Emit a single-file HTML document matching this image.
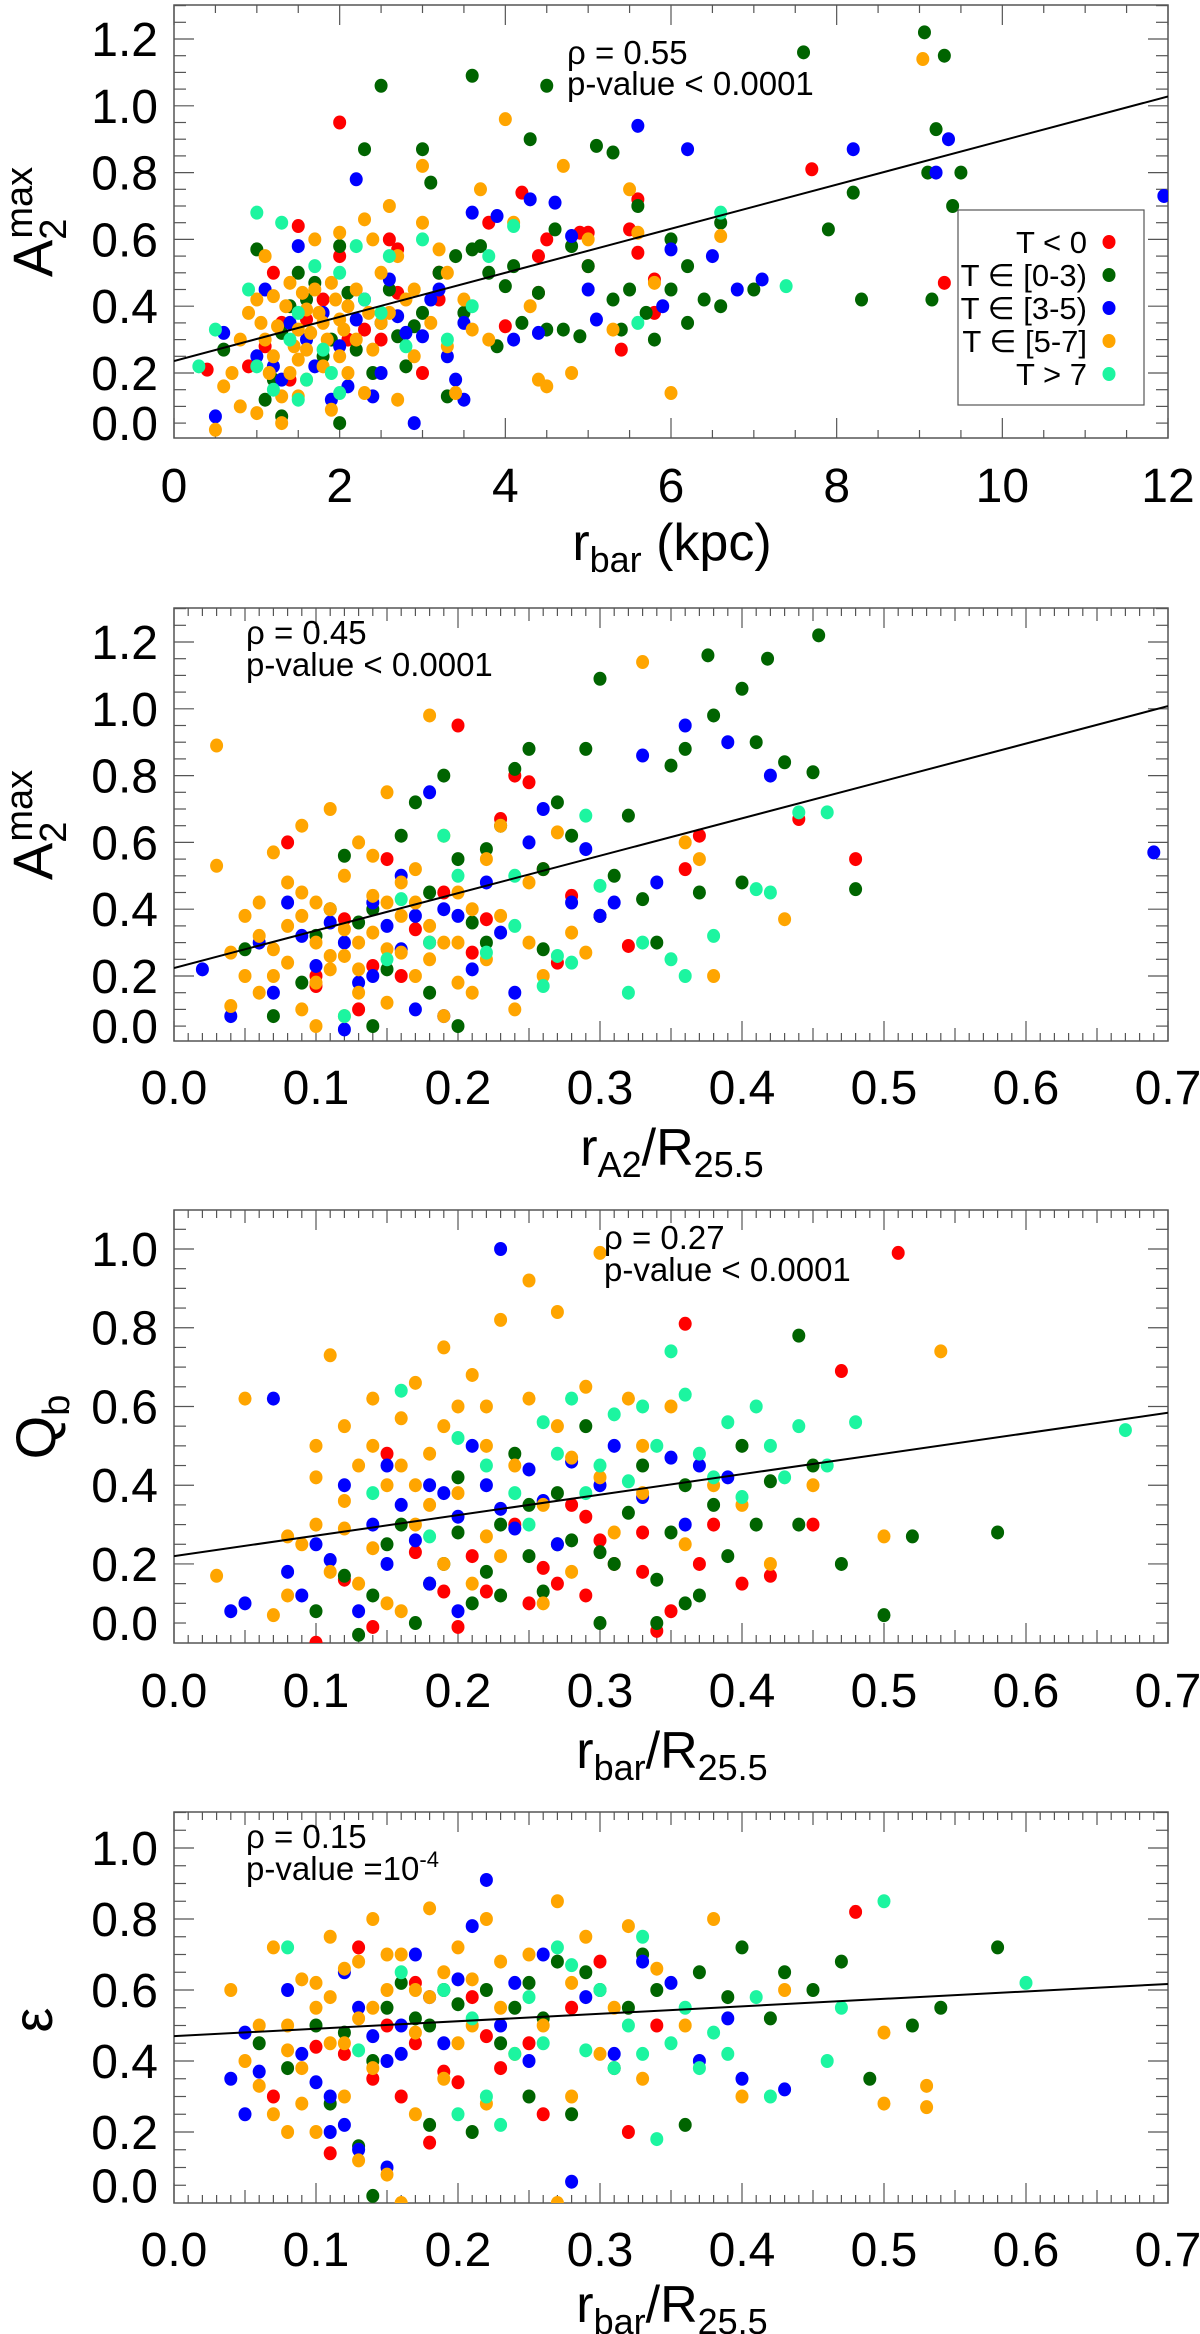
<!DOCTYPE html>
<html><head><meta charset="utf-8"><title>Bar strength correlations</title>
<style>
html,body{margin:0;padding:0;background:#fff;}
svg{display:block;font-family:"Liberation Sans",Arial,sans-serif;}
</style></head>
<body>
<svg id="fig" xmlns="http://www.w3.org/2000/svg" width="1200" height="2334" viewBox="0 0 1200 2334"></svg>
<script>
// ---- Data ----
const categories = ["T < 0", "T \u2208 [0-3)", "T \u2208 [3-5)", "T \u2208 [5-7]", "T > 7"];
const catColors = ["#ff0000", "#006400", "#0000ff", "#ffa500", "#1cf5a0"];

// Panel 1: A2max vs r_bar (kpc)
const p1Red = [[0.4,0.21],[0.9,0.22],[1.2,0.5],[1.5,0.64],[1.3,0.35],[2.0,0.95],[2.0,0.55],[2.1,0.3],[2.6,0.6],[2.7,0.57],[2.7,0.44],[3.2,0.42],[3.2,0.5],[3.8,0.65],[4.0,0.34],[4.2,0.74],[4.4,0.55],[4.4,0.44],[4.5,0.6],[4.9,0.62],[5.0,0.52],[5.0,0.62],[5.4,0.27],[5.6,0.56],[5.6,0.72],[5.5,0.63],[5.8,0.38],[5.8,0.48],[7.7,0.81],[9.3,0.47],[3.0,0.2],[1.8,0.42],[1.1,0.28],[2.5,0.3],[1.6,0.36],[2.3,0.33],[1.4,0.18]];
const p1Green = [[1.0,0.57],[1.3,0.32],[1.5,0.5],[1.7,0.47],[1.6,0.42],[2.0,0.58],[2.5,0.35],[2.6,0.45],[2.7,0.31],[3.0,0.87],[2.3,0.87],[2.5,1.06],[3.1,0.77],[3.2,0.5],[3.6,1.09],[3.7,0.58],[4.0,0.46],[4.3,0.9],[4.5,1.06],[4.4,0.44],[3.5,0.38],[3.9,0.28],[4.2,0.35],[4.6,0.63],[4.8,0.58],[5.0,0.52],[5.1,0.88],[5.3,0.86],[5.6,0.7],[5.5,0.45],[5.7,0.38],[6.0,0.6],[6.2,0.52],[6.0,0.45],[5.3,0.42],[4.9,0.31],[4.7,0.33],[5.4,0.33],[6.4,0.42],[6.6,0.4],[6.6,0.65],[7.0,0.45],[7.6,1.16],[7.9,0.63],[8.3,0.42],[8.2,0.74],[9.06,1.22],[9.3,1.15],[9.2,0.93],[9.1,0.8],[9.5,0.8],[9.4,0.7],[9.15,0.42],[3.3,0.13],[1.3,0.07],[2.0,0.05],[2.8,0.22],[3.4,0.55],[3.6,0.57],[3.0,0.38],[2.2,0.27],[1.2,0.18],[0.6,0.27],[1.9,0.3],[2.4,0.2],[3.8,0.5],[4.1,0.52],[4.5,0.33],[5.8,0.3],[6.2,0.35],[1.4,0.4],[1.8,0.25],[2.1,0.44],[2.9,0.34],[1.1,0.12]];
const p1Blue = [[0.5,0.07],[0.6,0.32],[1.0,0.25],[1.3,0.18],[1.5,0.58],[1.1,0.45],[1.7,0.22],[1.9,0.12],[2.1,0.16],[2.2,0.78],[2.4,0.13],[2.5,0.2],[2.7,0.37],[2.8,0.32],[3.0,0.31],[3.2,0.45],[3.3,0.25],[3.4,0.18],[3.5,0.12],[2.9,0.05],[3.6,0.68],[3.9,0.67],[4.3,0.72],[4.6,0.71],[4.8,0.61],[4.1,0.3],[5.0,0.45],[5.1,0.36],[5.6,0.94],[5.9,0.4],[6.0,0.57],[6.2,0.87],[6.5,0.55],[6.8,0.45],[7.1,0.48],[8.2,0.87],[9.35,0.9],[9.2,0.8],[11.95,0.73],[1.8,0.38],[2.3,0.42],[2.6,0.48],[4.4,0.32],[3.1,0.42],[1.4,0.35],[2.0,0.28],[1.2,0.22],[1.6,0.3],[2.2,0.36],[3.5,0.35]];
const p1Orange = [[0.5,0.03],[0.6,0.16],[0.8,0.1],[0.9,0.38],[1.0,0.42],[1.1,0.3],[1.2,0.25],[1.2,0.43],[1.3,0.05],[1.4,0.2],[1.4,0.47],[1.5,0.33],[1.5,0.13],[1.6,0.39],[1.6,0.27],[1.7,0.6],[1.7,0.45],[1.8,0.35],[1.8,0.22],[1.9,0.09],[1.9,0.47],[2.0,0.62],[2.0,0.36],[2.1,0.4],[2.1,0.2],[2.2,0.3],[2.2,0.45],[2.3,0.14],[2.3,0.66],[2.4,0.6],[2.5,0.35],[2.5,0.5],[2.6,0.38],[2.7,0.55],[2.7,0.12],[2.8,0.42],[2.9,0.25],[3.0,0.65],[3.1,0.35],[3.2,0.57],[3.3,0.28],[3.4,0.14],[3.5,0.42],[3.6,0.33],[3.7,0.75],[3.8,0.3],[4.0,0.96],[4.1,0.65],[4.3,0.4],[4.4,0.18],[4.7,0.82],[4.8,0.2],[5.0,0.6],[5.3,0.33],[5.5,0.75],[5.6,0.62],[5.8,0.47],[6.6,0.61],[6.0,0.14],[9.04,1.14],[4.5,0.16],[0.7,0.2],[1.0,0.08],[1.3,0.13],[1.6,0.18],[2.0,0.25],[2.4,0.27],[2.9,0.45],[3.3,0.5],[1.1,0.55],[2.6,0.7],[3.0,0.82],[1.25,0.34],[1.45,0.28],[1.55,0.44],[1.65,0.32],[1.75,0.38],[1.85,0.3],[1.95,0.42],[1.05,0.35],[1.35,0.4],[1.15,0.2],[2.05,0.33],[2.35,0.38],[1.5,0.24],[0.8,0.3]];
const p1Cyan = [[0.3,0.22],[0.5,0.33],[0.9,0.45],[1.0,0.68],[1.3,0.65],[1.4,0.3],[1.5,0.12],[1.6,0.18],[1.8,0.27],[2.0,0.5],[2.2,0.58],[2.3,0.42],[2.5,0.38],[2.8,0.28],[3.0,0.6],[3.3,0.3],[3.6,0.4],[1.2,0.15],[1.7,0.52],[2.6,0.55],[3.8,0.55],[4.1,0.64],[5.6,0.35],[6.6,0.68],[7.39,0.46],[1.0,0.22],[2.0,0.14],[1.5,0.38],[1.9,0.2]];
const p1Fit = [0.236, 0.066];

// Panel 2: A2max vs r_A2/R25.5
const p2Red = [[0.08,0.6],[0.1,0.2],[0.12,0.37],[0.14,0.23],[0.15,0.55],[0.17,0.34],[0.18,0.3],[0.19,0.45],[0.2,0.95],[0.21,0.27],[0.22,0.37],[0.23,0.67],[0.24,0.8],[0.25,0.78],[0.26,0.52],[0.28,0.44],[0.3,0.38],[0.32,0.29],[0.36,0.52],[0.37,0.62],[0.44,0.67],[0.48,0.55],[0.1,0.17],[0.13,0.1],[0.16,0.2],[0.27,0.24]];
const p2Green = [[0.05,0.28],[0.07,0.08],[0.1,0.32],[0.11,0.4],[0.12,0.56],[0.13,0.36],[0.14,0.05],[0.16,0.62],[0.17,0.72],[0.18,0.45],[0.19,0.8],[0.2,0.55],[0.2,0.05],[0.22,0.58],[0.23,0.65],[0.24,0.82],[0.25,0.88],[0.26,0.52],[0.27,0.72],[0.28,0.62],[0.29,0.88],[0.3,1.09],[0.31,0.5],[0.32,0.68],[0.33,0.43],[0.34,0.3],[0.35,0.83],[0.36,0.88],[0.37,0.45],[0.38,0.98],[0.4,1.06],[0.41,0.9],[0.43,0.84],[0.45,0.81],[0.4,0.48],[0.48,0.46],[0.454,1.22],[0.376,1.16],[0.418,1.15],[0.3,0.38],[0.26,0.28],[0.22,0.3],[0.15,0.22],[0.09,0.18],[0.18,0.15],[0.14,0.4],[0.21,0.36]];
const p2Blue = [[0.02,0.22],[0.04,0.08],[0.06,0.3],[0.07,0.15],[0.08,0.42],[0.1,0.23],[0.11,0.36],[0.12,0.04],[0.13,0.18],[0.14,0.42],[0.15,0.35],[0.16,0.28],[0.17,0.1],[0.18,0.75],[0.19,0.4],[0.2,0.38],[0.21,0.22],[0.22,0.48],[0.24,0.15],[0.25,0.6],[0.26,0.7],[0.28,0.42],[0.29,0.58],[0.3,0.38],[0.31,0.42],[0.33,0.86],[0.36,0.95],[0.34,0.48],[0.42,0.8],[0.39,0.9],[0.69,0.57],[0.14,0.2],[0.09,0.32],[0.23,0.33],[0.16,0.5],[0.19,0.08],[0.12,0.3],[0.17,0.38]];
const p2Orange = [[0.03,0.89],[0.03,0.53],[0.05,0.38],[0.04,0.27],[0.06,0.15],[0.07,0.57],[0.08,0.35],[0.08,0.24],[0.09,0.65],[0.09,0.45],[0.1,0.3],[0.1,0.18],[0.11,0.7],[0.11,0.4],[0.12,0.08],[0.12,0.5],[0.13,0.22],[0.13,0.6],[0.14,0.33],[0.14,0.44],[0.15,0.12],[0.15,0.75],[0.16,0.27],[0.16,0.38],[0.17,0.52],[0.17,0.2],[0.18,0.98],[0.18,0.35],[0.19,0.62],[0.19,0.08],[0.2,0.3],[0.2,0.45],[0.21,0.15],[0.22,0.55],[0.22,0.25],[0.23,0.38],[0.24,0.1],[0.25,0.48],[0.26,0.2],[0.27,0.63],[0.28,0.33],[0.29,0.27],[0.33,1.14],[0.36,0.6],[0.37,0.55],[0.38,0.2],[0.43,0.37],[0.06,0.32],[0.07,0.2],[0.09,0.1],[0.1,0.05],[0.11,0.26],[0.12,0.34],[0.13,0.15],[0.14,0.56],[0.15,0.42],[0.16,0.48],[0.18,0.25],[0.2,0.18],[0.21,0.4],[0.23,0.65],[0.25,0.3],[0.08,0.48],[0.05,0.2],[0.04,0.11],[0.07,0.28],[0.09,0.38],[0.1,0.42],[0.11,0.22],[0.12,0.26],[0.13,0.3],[0.15,0.28],[0.17,0.42],[0.19,0.3],[0.06,0.42]];
const p2Cyan = [[0.12,0.08],[0.15,0.25],[0.18,0.3],[0.2,0.5],[0.22,0.27],[0.24,0.35],[0.26,0.17],[0.27,0.26],[0.28,0.24],[0.3,0.47],[0.32,0.15],[0.33,0.3],[0.35,0.25],[0.36,0.2],[0.38,0.32],[0.41,0.46],[0.42,0.45],[0.44,0.69],[0.46,0.69],[0.16,0.43],[0.19,0.62],[0.29,0.68],[0.24,0.5]];
const p2Fit = [0.224, 1.12];

// Panel 3: Qb vs r_bar/R25.5
const p3Red = [[0.1,0.0],[0.12,0.16],[0.14,0.04],[0.15,0.48],[0.17,0.23],[0.19,0.13],[0.2,0.04],[0.22,0.13],[0.24,0.3],[0.25,0.1],[0.26,0.19],[0.28,0.35],[0.29,0.12],[0.3,0.26],[0.31,0.2],[0.33,0.18],[0.34,0.03],[0.35,0.08],[0.36,0.81],[0.37,0.2],[0.38,0.3],[0.4,0.15],[0.42,0.17],[0.45,0.3],[0.47,0.69],[0.51,0.99],[0.33,0.28],[0.27,0.15],[0.21,0.22],[0.29,0.32]];
const p3Green = [[0.1,0.08],[0.12,0.17],[0.13,0.02],[0.14,0.12],[0.15,0.25],[0.16,0.3],[0.17,0.05],[0.18,0.15],[0.19,0.2],[0.2,0.42],[0.21,0.1],[0.22,0.18],[0.23,0.3],[0.24,0.48],[0.25,0.22],[0.26,0.13],[0.27,0.38],[0.28,0.26],[0.29,0.55],[0.3,0.05],[0.31,0.2],[0.32,0.33],[0.33,0.45],[0.34,0.16],[0.35,0.28],[0.36,0.4],[0.37,0.12],[0.38,0.35],[0.39,0.22],[0.4,0.5],[0.41,0.3],[0.42,0.41],[0.44,0.3],[0.44,0.78],[0.45,0.45],[0.47,0.2],[0.5,0.07],[0.52,0.27],[0.58,0.28],[0.2,0.28],[0.25,0.35],[0.3,0.23],[0.34,0.05],[0.36,0.1],[0.23,0.12],[0.27,0.25]];
const p3Blue = [[0.04,0.08],[0.05,0.1],[0.07,0.62],[0.08,0.18],[0.09,0.12],[0.1,0.25],[0.11,0.21],[0.12,0.4],[0.13,0.08],[0.14,0.3],[0.15,0.45],[0.16,0.35],[0.17,0.26],[0.18,0.15],[0.19,0.38],[0.2,0.32],[0.21,0.5],[0.22,0.4],[0.23,1.0],[0.24,0.29],[0.25,0.44],[0.26,0.36],[0.27,0.25],[0.28,0.46],[0.3,0.4],[0.31,0.5],[0.33,0.37],[0.35,0.47],[0.36,0.3],[0.37,0.45],[0.39,0.42],[0.2,0.08],[0.15,0.2],[0.18,0.4],[0.23,0.34]];
const p3Orange = [[0.03,0.17],[0.05,0.62],[0.07,0.07],[0.08,0.27],[0.08,0.12],[0.09,0.25],[0.1,0.5],[0.1,0.3],[0.11,0.73],[0.11,0.18],[0.12,0.55],[0.12,0.36],[0.13,0.45],[0.14,0.24],[0.14,0.62],[0.15,0.4],[0.15,0.1],[0.16,0.57],[0.17,0.3],[0.17,0.66],[0.18,0.48],[0.19,0.2],[0.19,0.75],[0.2,0.38],[0.2,0.6],[0.21,0.68],[0.22,0.27],[0.22,0.5],[0.23,0.82],[0.24,0.45],[0.25,0.92],[0.25,0.62],[0.26,0.35],[0.27,0.84],[0.27,0.55],[0.28,0.18],[0.29,0.65],[0.3,0.99],[0.3,0.42],[0.31,0.28],[0.32,0.62],[0.33,0.38],[0.35,0.6],[0.36,0.25],[0.38,0.4],[0.4,0.35],[0.42,0.2],[0.45,0.4],[0.5,0.27],[0.54,0.74],[0.13,0.15],[0.16,0.08],[0.18,0.35],[0.21,0.15],[0.23,0.22],[0.26,0.1],[0.28,0.47],[0.33,0.5],[0.12,0.29],[0.1,0.42],[0.16,0.45],[0.19,0.55],[0.22,0.6],[0.14,0.5],[0.17,0.4]];
const p3Cyan = [[0.14,0.38],[0.16,0.64],[0.18,0.27],[0.2,0.52],[0.22,0.45],[0.24,0.38],[0.26,0.56],[0.27,0.48],[0.28,0.62],[0.3,0.45],[0.31,0.58],[0.32,0.41],[0.33,0.6],[0.34,0.5],[0.35,0.74],[0.36,0.63],[0.37,0.48],[0.38,0.42],[0.39,0.56],[0.4,0.37],[0.41,0.6],[0.42,0.5],[0.43,0.42],[0.44,0.55],[0.46,0.45],[0.48,0.56],[0.67,0.54],[0.29,0.38],[0.25,0.3]];
const p3Fit = [0.22, 0.52];

// Panel 4: ellipticity vs r_bar/R25.5
const p4Red = [[0.07,0.3],[0.1,0.44],[0.11,0.14],[0.12,0.42],[0.13,0.72],[0.15,0.5],[0.16,0.3],[0.17,0.45],[0.18,0.17],[0.19,0.37],[0.2,0.34],[0.21,0.58],[0.22,0.47],[0.23,0.38],[0.26,0.25],[0.28,0.55],[0.3,0.68],[0.32,0.2],[0.34,0.5],[0.48,0.82],[0.17,0.62],[0.25,0.45],[0.14,0.35]];
const p4Green = [[0.06,0.45],[0.08,0.38],[0.1,0.5],[0.11,0.28],[0.12,0.48],[0.13,0.16],[0.14,0.02],[0.14,0.4],[0.15,0.55],[0.16,0.62],[0.17,0.52],[0.18,0.22],[0.19,0.6],[0.2,0.56],[0.21,0.2],[0.22,0.6],[0.23,0.45],[0.24,0.55],[0.25,0.3],[0.26,0.52],[0.27,0.68],[0.28,0.25],[0.29,0.65],[0.31,0.38],[0.32,0.55],[0.33,0.7],[0.34,0.6],[0.36,0.22],[0.37,0.65],[0.39,0.58],[0.4,0.72],[0.42,0.52],[0.43,0.65],[0.45,0.6],[0.47,0.68],[0.49,0.35],[0.52,0.5],[0.54,0.55],[0.58,0.72],[0.3,0.6],[0.25,0.62],[0.18,0.5]];
const p4Blue = [[0.04,0.35],[0.05,0.25],[0.05,0.48],[0.06,0.37],[0.08,0.6],[0.09,0.42],[0.1,0.34],[0.11,0.3],[0.11,0.2],[0.12,0.22],[0.13,0.15],[0.13,0.55],[0.14,0.47],[0.15,0.4],[0.15,0.1],[0.16,0.5],[0.17,0.7],[0.18,0.58],[0.19,0.45],[0.2,0.63],[0.21,0.78],[0.22,0.91],[0.23,0.5],[0.24,0.62],[0.25,0.4],[0.26,0.7],[0.28,0.06],[0.29,0.58],[0.31,0.42],[0.33,0.68],[0.35,0.62],[0.37,0.4],[0.39,0.52],[0.4,0.35],[0.43,0.32],[0.12,0.65],[0.16,0.42]];
const p4Orange = [[0.04,0.6],[0.05,0.4],[0.06,0.33],[0.07,0.72],[0.07,0.25],[0.08,0.5],[0.08,0.2],[0.09,0.63],[0.09,0.38],[0.1,0.55],[0.1,0.2],[0.11,0.75],[0.11,0.45],[0.12,0.3],[0.12,0.66],[0.13,0.52],[0.13,0.12],[0.14,0.8],[0.14,0.38],[0.15,0.6],[0.15,0.08],[0.16,0.7],[0.16,0.0],[0.17,0.48],[0.17,0.25],[0.18,0.83],[0.18,0.58],[0.19,0.35],[0.2,0.72],[0.2,0.45],[0.21,0.63],[0.22,0.28],[0.22,0.8],[0.23,0.55],[0.24,0.42],[0.25,0.7],[0.26,0.5],[0.27,0.85],[0.27,0.0],[0.28,0.3],[0.28,0.62],[0.29,0.75],[0.3,0.42],[0.31,0.55],[0.32,0.78],[0.33,0.35],[0.34,0.66],[0.36,0.5],[0.38,0.8],[0.4,0.3],[0.43,0.6],[0.5,0.28],[0.5,0.48],[0.53,0.27],[0.53,0.33],[0.12,0.45],[0.1,0.62],[0.14,0.55],[0.19,0.65],[0.23,0.68],[0.21,0.5],[0.09,0.28],[0.06,0.5],[0.11,0.58],[0.13,0.68],[0.15,0.7],[0.17,0.6],[0.08,0.43]];
const p4Cyan = [[0.08,0.72],[0.13,0.43],[0.16,0.65],[0.19,0.6],[0.2,0.25],[0.21,0.52],[0.22,0.3],[0.23,0.22],[0.24,0.42],[0.25,0.58],[0.26,0.45],[0.28,0.67],[0.29,0.43],[0.3,0.6],[0.31,0.38],[0.32,0.5],[0.33,0.42],[0.34,0.18],[0.35,0.45],[0.36,0.55],[0.37,0.38],[0.38,0.48],[0.39,0.42],[0.41,0.58],[0.42,0.3],[0.46,0.4],[0.47,0.55],[0.5,0.85],[0.6,0.62],[0.27,0.72],[0.33,0.75]];
const p4Fit = [0.47, 0.21];

// Tick labels
const xTicksKpc = [0, 2, 4, 6, 8, 10, 12];
const xTicksRatio = [0.0, 0.1, 0.2, 0.3, 0.4, 0.5, 0.6, 0.7];
const yTicksA2 = [0.0, 0.2, 0.4, 0.6, 0.8, 1.0, 1.2];
const yTicks1 = [0.0, 0.2, 0.4, 0.6, 0.8, 1.0];

const NS = "http://www.w3.org/2000/svg";
const svg = document.getElementById("fig");
function mk(tag, attrs, parent) {
  const e = document.createElementNS(NS, tag);
  for (const k in attrs) e.setAttribute(k, attrs[k]);
  (parent || svg).appendChild(e);
  return e;
}

const X0 = 174, X1 = 1168;
const panels = [
  {id:"p1", top:5, bottom:438, yRef:1.2, yRefPx:39, yScale:334, xMax:12, xTicks:xTicksKpc, xMinor:0.5, xDec:0,
   yTicks:yTicksA2, series:[p1Red,p1Green,p1Blue,p1Orange,p1Cyan], fit:p1Fit, tickLabY:485},
  {id:"p2", top:608, bottom:1041, yRef:1.2, yRefPx:642, yScale:334, xMax:0.7, xTicks:xTicksRatio, xMinor:0.01, xDec:1,
   yTicks:yTicksA2, series:[p2Red,p2Green,p2Blue,p2Orange,p2Cyan], fit:p2Fit, tickLabY:1087},
  {id:"p3", top:1210, bottom:1643, yRef:1.0, yRefPx:1249, yScale:393.7, xMax:0.7, xTicks:xTicksRatio, xMinor:0.01, xDec:1,
   yTicks:yTicks1, series:[p3Red,p3Green,p3Blue,p3Orange,p3Cyan], fit:p3Fit, tickLabY:1690},
  {id:"p4", top:1812, bottom:2203, yRef:1.0, yRefPx:1848, yScale:355, xMax:0.7, xTicks:xTicksRatio, xMinor:0.01, xDec:1,
   yTicks:yTicks1, series:[p4Red,p4Green,p4Blue,p4Orange,p4Cyan], fit:p4Fit, tickLabY:2249}
];

panels.forEach((p, pi) => {
  const g = mk("g", {});
  
  
  const xs = v => X0 + v / p.xMax * (X1 - X0);
  const ys = v => p.yRefPx + (p.yRef - v) * p.yScale;
  const yMaxVal = p.yRef + (p.yRefPx - p.top) / p.yScale;

  const cp = mk("clipPath", {id: "clip" + pi}, g);
  mk("rect", {x: X0, y: p.top, width: X1 - X0, height: p.bottom - p.top}, cp);

  const frame = mk("rect", {x: X0, y: p.top, width: X1 - X0, height: p.bottom - p.top, fill: "none", stroke: "#555", "stroke-width": 1.5}, g);
  
  

  const nMinor = Math.round(p.xMax / p.xMinor);
  const xtg = mk("g", {stroke: "#555", "stroke-width": 1.2}, g);
  
  
  for (let i = 0; i <= nMinor; i++) {
    const v = i * p.xMinor;
    const isMajor = p.xTicks.some(t => Math.abs(t - v) < 1e-6);
    const isMid = p.xDec === 1 && (i % 5 === 0);
    const len = isMajor ? 20 : (isMid ? 13 : 8);
    const x = xs(v);
    mk("line", {x1: x, y1: p.bottom, x2: x, y2: p.bottom - len}, xtg);
    mk("line", {x1: x, y1: p.top, x2: x, y2: p.top + len}, xtg);
  }
  const ytg = mk("g", {stroke: "#555", "stroke-width": 1.2}, g);
  
  
  for (let v = 0; v <= yMaxVal + 1e-6; v += 0.05) {
    const y = ys(v);
    if (y > p.bottom - 1) continue;
    const major = Math.abs(v / 0.2 - Math.round(v / 0.2)) < 1e-6;
    const len = major ? 20 : 12;
    mk("line", {x1: X0, y1: y, x2: X0 + len, y2: y}, ytg);
    mk("line", {x1: X1, y1: y, x2: X1 - len, y2: y}, ytg);
  }

  p.xTicks.forEach(t => {
    const tx = mk("text", {x: xs(t), y: p.tickLabY + 17, "text-anchor": "middle", "font-size": 48, fill: "#000"}, g);
    tx.textContent = t.toFixed(p.xDec);
    
    
  });
  p.yTicks.forEach(t => {
    const pos = t === 0 ? 0.05 : t;
    const ty = mk("text", {x: 158, y: ys(pos) + 17, "text-anchor": "end", "font-size": 48, fill: "#000"}, g);
    ty.textContent = t.toFixed(1);
    
    
  });

  const pg = mk("g", {"clip-path": "url(#clip" + pi + ")"}, g);
  
  
  p.series.forEach((ser, si) => {
    ser.forEach(d => {
      const c = mk("ellipse", {cx: xs(d[0]), cy: ys(d[1]), rx: 6.5, ry: 7, fill: catColors[si]}, pg);
      
      
    });
  });

  const ln = mk("line", {x1: xs(0), y1: ys(p.fit[0]), x2: xs(p.xMax), y2: ys(p.fit[0] + p.fit[1] * p.xMax), stroke: "#000", "stroke-width": 2, "clip-path": "url(#clip" + pi + ")"}, g);
  
  
});

function txt(x, y, size, html, name, anchor, extra) {
  const t = mk("text", Object.assign({x: x, y: y, "font-size": size, fill: "#000", "text-anchor": anchor || "start"}, extra || {}));
  t.innerHTML = html;
  
  
  return t;
}
txt(672, 560, 52, 'r<tspan font-size="36" dy="12">bar</tspan><tspan dy="-12"> (kpc)</tspan>', "x-axis-title-1", "middle");
txt(672, 1165, 52, 'r<tspan font-size="36" dy="12">A2</tspan><tspan dy="-12">/R</tspan><tspan font-size="36" dy="12">25.5</tspan>', "x-axis-title-2", "middle");
txt(672, 1768, 52, 'r<tspan font-size="36" dy="12">bar</tspan><tspan dy="-12">/R</tspan><tspan font-size="36" dy="12">25.5</tspan>', "x-axis-title-3", "middle");
txt(672, 2322, 52, 'r<tspan font-size="36" dy="12">bar</tspan><tspan dy="-12">/R</tspan><tspan font-size="36" dy="12">25.5</tspan>', "x-axis-title-4", "middle");
txt(0, 0, 56, 'A<tspan font-size="38" dy="14">2</tspan><tspan font-size="38" dx="-20" dy="-34">max</tspan>', "y-axis-title-1", "middle", {transform: "translate(52,222) rotate(-90)"});
txt(0, 0, 56, 'A<tspan font-size="38" dy="14">2</tspan><tspan font-size="38" dx="-20" dy="-34">max</tspan>', "y-axis-title-2", "middle", {transform: "translate(52,825) rotate(-90)"});
txt(0, 0, 56, 'Q<tspan font-size="38" dy="14">b</tspan>', "y-axis-title-3", "middle", {transform: "translate(55,1427) rotate(-90)"});
txt(0, 0, 56, '\u03b5', "y-axis-title-4", "middle", {transform: "translate(52,2020) rotate(-90)"});
txt(567, 64, 33, '\u03c1 =  0.55', "annotation-rho-1");
txt(567, 95, 33, 'p-value &lt; 0.0001', "annotation-pvalue-1");
txt(246, 644, 33, '\u03c1 =  0.45', "annotation-rho-2");
txt(246, 676, 33, 'p-value &lt; 0.0001', "annotation-pvalue-2");
txt(604, 1249, 33, '\u03c1 =  0.27', "annotation-rho-3");
txt(604, 1281, 33, 'p-value &lt; 0.0001', "annotation-pvalue-3");
txt(246, 1848, 33, '\u03c1 =  0.15', "annotation-rho-4");
txt(246, 1880, 33, 'p-value =10<tspan font-size="22" dy="-13">-4</tspan>', "annotation-pvalue-4");

const lg = mk("g", {});


mk("rect", {x: 958, y: 210, width: 186, height: 195, fill: "#fff", stroke: "#555", "stroke-width": 1.2}, lg);
categories.forEach((c, i) => {
  const y = 242 + i * 33;
  const t = mk("text", {x: 1087, y: y + 11, "text-anchor": "end", "font-size": 31, fill: "#000"}, lg);
  t.textContent = c;
  
  
  const d = mk("ellipse", {cx: 1109, cy: y, rx: 6.5, ry: 7, fill: catColors[i]}, lg);
  
  
});
</script>
</body></html>
